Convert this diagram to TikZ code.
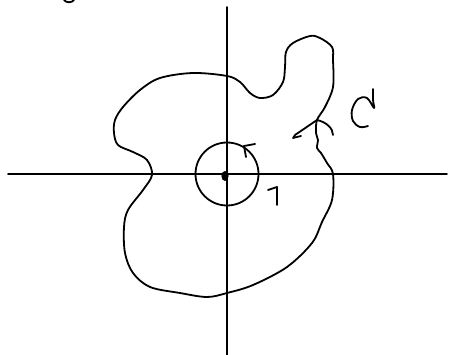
\documentclass[tikz,border=0pt]{standalone}
\begin{document}
\begin{tikzpicture}[x=1pt,y=-1pt,
  ink/.style={line width=1.8pt,line cap=round,line join=round,black}]
\useasboundingbox (0,0) rectangle (449,355);
% axes
\coordinate (xl) at (8,174); \coordinate (xr) at (447,174);
\coordinate (yt) at (227,7); \coordinate (yb) at (227,355);
\draw[ink] (xl) -- (xr);
\draw[ink] (yt) -- (yb);
% unit circle
\coordinate (o) at (227,174);
\draw[ink] (o) circle (31.5);
\fill (225,176) ellipse (3.6 and 5);
% arrow on circle
\coordinate (ca) at (244,146);
\draw[ink] (ca) -- (255,144);
\draw[ink] (ca) -- (246,157);
% label 1
\draw[ink] (268,190) -- (277,187) -- (277,205);
% big curve
\draw[ink] plot[smooth cycle, tension=0.55] coordinates {
(333,174) (332,200) (322,222) (312,243) (287,267) (253,285) (227,293)
(207,297) (180,293) (150,287) (133,273) (125,253) (124,227) (128,210)
(143,190) (152,175) (147,160) (133,152) (118,145) (114,133) (115,120)
(123,107) (140,90) (160,78) (193,73) (227,76) (240,82) (250,93)
(260,98) (273,95) (283,82) (285,67) (286,52) (293,43) (310,36)
(320,38) (332,47) (333,60) (333,87) (325,107) (317,120) (316,133)
(318,140) (317,148) (321,153) (327,163)};
% arrowhead on curve
\coordinate (ba) at (317,120);
\draw[ink] (ba) -- (295,135) -- (293,138) -- (301,136);
\draw[ink] (ba) .. controls (326,122) and (333,128) .. (333,135);
% label C
\draw[ink] plot[smooth, tension=0.6] coordinates {
(373,89) (373,100) (374,108) (367,98) (358,99) (352,110) (353,121) (360,127) (368,126)};
% top-left fragment
\draw[ink] (64,0) .. controls (66,3) and (72,3) .. (74,0);
\end{tikzpicture}
\end{document}
